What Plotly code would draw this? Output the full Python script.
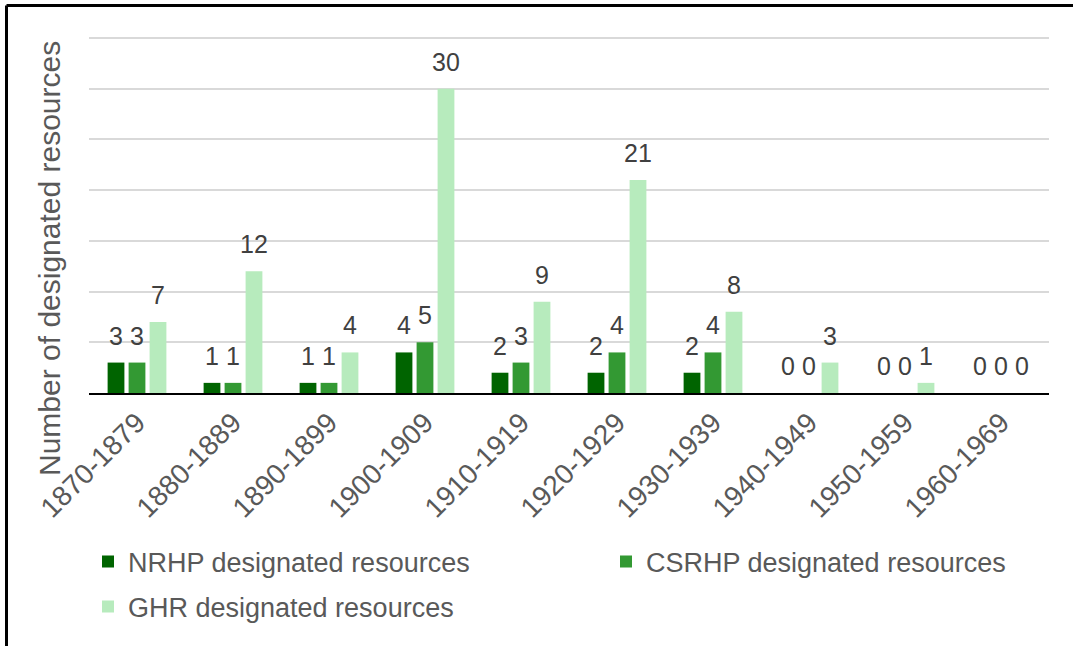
import plotly.graph_objects as go

categories = ["1870-1879", "1880-1889", "1890-1899", "1900-1909", "1910-1919",
              "1920-1929", "1930-1939", "1940-1949", "1950-1959", "1960-1969"]
nrhp = [3, 1, 1, 4, 2, 2, 2, 0, 0, 0]
csrhp = [3, 1, 1, 5, 3, 4, 4, 0, 0, 0]
ghr = [7, 12, 4, 30, 9, 21, 8, 3, 1, 0]
grid_ticks = [0, 5, 10, 15, 20, 25, 30, 35]

series_names = ["NRHP designated resources", "CSRHP designated resources", "GHR designated resources"]
series_values = [nrhp, csrhp, ghr]
colors = ["#006400", "#339933", "#b7ebbd"]
legend_ids = ["legend", "legend2", "legend3"]

W, H = 1073, 646
L, R, T, B = 89, 24, 36, 253
PW, PH = W - L - R, H - T - B
FONT = "Liberation Sans, Arial, sans-serif"


def px_x(p):
    return (p - L) / PW


def px_y(p):
    return (H - B - p) / PH


fig = go.Figure()
for name, vals, col, lg in zip(series_names, series_values, colors, legend_ids):
    fig.add_trace(go.Bar(name=name, x=categories, y=vals, marker_color=col,
                         marker_line_width=0, legend=lg, showlegend=True))

annotations = []
for i, vals in enumerate(series_values):
    for c, v in zip(categories, vals):
        annotations.append(dict(x=c, y=v, xref="x", yref="y", text=str(v), showarrow=False,
                                xshift=(i - 1) * 21, yshift=11, yanchor="bottom",
                                font=dict(size=25, color="#404040", family=FONT)))

annotations.append(dict(x=px_x(49), y=px_y(259), xref="paper", yref="paper",
                        text="Number of designated resources", textangle=-90, showarrow=False,
                        xanchor="center", yanchor="middle",
                        font=dict(size=30, color="#595959", family=FONT)))

shapes = [
    dict(type="line", xref="paper", yref="paper", x0=px_x(6.5), x1=1.2,
         y0=px_y(5.5), y1=px_y(5.5), line=dict(color="black", width=3)),
    dict(type="line", xref="paper", yref="paper", x0=px_x(6.5), x1=px_x(6.5),
         y0=px_y(5.5), y1=-1.0, line=dict(color="black", width=3)),
]

legend_font = dict(size=27, color="#595959", family=FONT)
fig.update_layout(
    width=W, height=H,
    margin=dict(l=L, r=R, t=T, b=B),
    paper_bgcolor="white", plot_bgcolor="white",
    showlegend=True,
    barmode="group", bargap=0.344, bargroupgap=0.2,
    font=dict(family=FONT, color="#595959"),
    xaxis=dict(showline=True, linecolor="black", linewidth=2, ticks="", tickangle=-45,
               tickfont=dict(size=28, color="#595959"), showgrid=False, zeroline=False),
    yaxis=dict(range=[0, 35.2], tickvals=grid_ticks, showticklabels=False,
               showgrid=True, gridcolor="#d9d9d9", gridwidth=2, zeroline=False, ticks=""),
    legend=dict(orientation="h", x=px_x(88), y=px_y(562), xanchor="left", yanchor="middle",
                font=legend_font, bgcolor="rgba(0,0,0,0)"),
    legend2=dict(orientation="h", x=px_x(606), y=px_y(562), xanchor="left", yanchor="middle",
                 font=legend_font, bgcolor="rgba(0,0,0,0)"),
    legend3=dict(orientation="h", x=px_x(88), y=px_y(607), xanchor="left", yanchor="middle",
                 font=legend_font, bgcolor="rgba(0,0,0,0)"),
    annotations=annotations,
    shapes=shapes,
)

fig.write_html("out.html", config={"displayModeBar": False},
               post_script="document.body.style.margin='0';")
